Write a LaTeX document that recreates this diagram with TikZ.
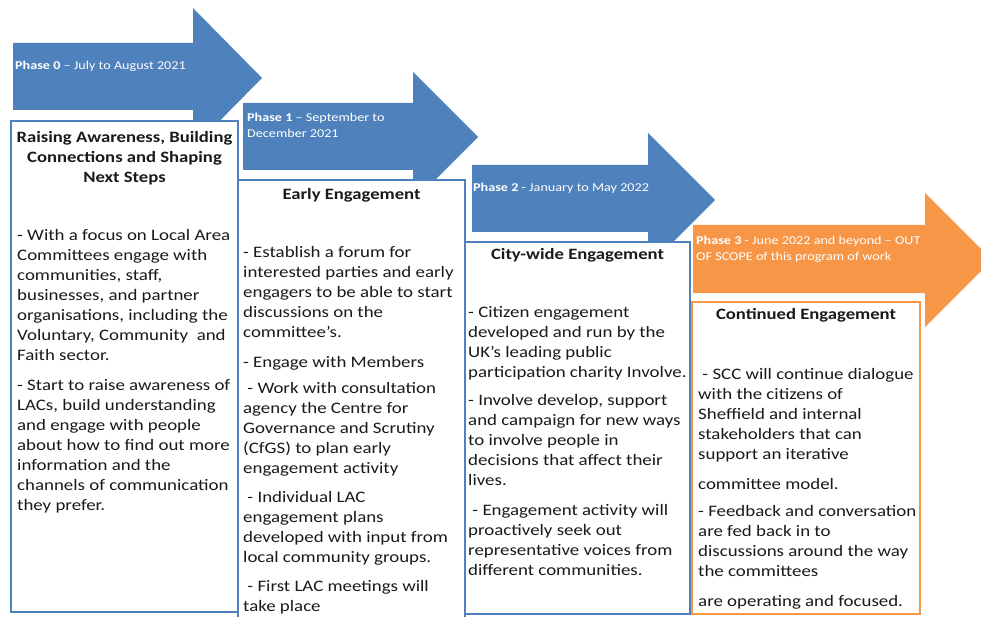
\documentclass[tikz,border=0pt]{standalone}
\usepackage{fontspec}
\setmainfont{Carlito}[FakeStretch=1.18]
\definecolor{phaseblue}{HTML}{4F81BD}
\definecolor{phaseorange}{HTML}{F79646}
\definecolor{inktext}{HTML}{1A1A1A}

\begin{document}
\begin{tikzpicture}[x=1pt,y=-1pt,
	stagebox/.style={draw=phaseblue, line width=2.5pt, fill=white},
	phaselabel/.style={anchor=north west, inner sep=0pt, align=left, text=white,
		font=\fontsize{12}{15.5}\selectfont},
	boxtitle/.style={anchor=north, inner sep=0pt, align=center, text=inktext,
		font=\bfseries\fontsize{15.8}{20}\selectfont},
	boxtext/.style={anchor=north west, inner sep=0pt, align=left, text=inktext,
		font=\fontsize{16}{20}\selectfont}]
		\useasboundingbox (0,0) rectangle (981,617);
		\clip (0,0) rectangle (981,617);
		% phase 0
		\fill[phaseblue] (13,43) -- (193,43) -- (193,8) -- (262,78) -- (193,148)
		-- (193,110) -- (13,110) -- cycle;
		\node[phaselabel] (lab0) at (15,61) {\textbf{Phase 0} -- July to August 2021};
		\draw[stagebox] (11,121) rectangle (238,612);
		\node[boxtitle] (title0) at (124.5,131) {Raising Awareness, Building\\
			Connections and Shaping\\Next Steps};
		\node[boxtext] (text0) at (17,229) {- With a focus on Local Area\\
			Committees engage with\\
			communities, staff,\\
			businesses, and partner\\
			organisations, including the\\
			Voluntary, Community \ and\\
			Faith sector.\\[10pt]
			- Start to raise awareness of\\
			LACs, build understanding\\
			and engage with people\\
			about how to find out more\\
			information and the\\
			channels of communication\\
			they prefer.};
		% phase 1
		\fill[phaseblue] (243,103) -- (413,103) -- (413,72) -- (478,137) -- (413,202)
		-- (413,170) -- (243,170) -- cycle;
		\node[phaselabel] (lab1) at (247,113) {\textbf{Phase 1} -- September to\\
			December 2021};
		\draw[stagebox] (238,180) rectangle (465,630);
		\node[boxtitle] (title1) at (351.5,188) {Early Engagement};
		\node[boxtext] (text1) at (243,246) {- Establish a forum for\\
			interested parties and early\\
			engagers to be able to start\\
			discussions on the\\
			committee’s.\\[10pt]
			- Engage with Members\\[6pt]
			\ - Work with consultation\\
			agency the Centre for\\
			Governance and Scrutiny\\
			(CfGS) to plan early\\
			engagement activity\\[9pt]
			\ - Individual LAC\\
			engagement plans\\
			developed with input from\\
			local community groups.\\[9pt]
			\ - First LAC meetings will\\
			take place};
		% phase 2
		\fill[phaseblue] (472,165) -- (648,165) -- (648,133) -- (715,200) -- (648,267)
		-- (648,232) -- (472,232) -- cycle;
		\node[phaselabel] (lab2) at (473,183) {\textbf{Phase 2} - January to May 2022};
		\draw[stagebox] (465,242) rectangle (690,614);
		\node[boxtitle] (title2) at (577.5,248) {City-wide Engagement};
		\node[boxtext] (text2) at (468,306) {- Citizen engagement\\
			developed and run by the\\
			UK’s leading public\\
			participation charity Involve.\\[8pt]
			- Involve develop, support\\
			and campaign for new ways\\
			to involve people in\\
			decisions that affect their\\
			lives.\\[10pt]
			\ - Engagement activity will\\
			proactively seek out\\
			representative voices from\\
			different communities.};
		% phase 3 (out of scope)
		\fill[phaseorange] (693,225) -- (925,225) -- (925,193) -- (992,260) -- (925,327)
		-- (925,293) -- (693,293) -- cycle;
		\node[phaselabel] (lab3) at (696,236) {\textbf{Phase 3} - June 2022 and beyond -- OUT\\
			OF SCOPE of this program of work};
		\draw[stagebox, draw=phaseorange] (692,302) rectangle (920,614);
		\node[boxtitle] (title3) at (806,308) {Continued Engagement};
		\node[boxtext] (text3) at (698,368) {\ - SCC will continue dialogue\\
			with the citizens of\\
			Sheffield and internal\\
			stakeholders that can\\
			support an iterative\\[10pt]
			committee model.\\[7pt]
			- Feedback and conversation\\
			are fed back in to\\
			discussions around the way\\
			the committees\\[10pt]
			are operating and focused.};
	\end{tikzpicture}
\end{document}
